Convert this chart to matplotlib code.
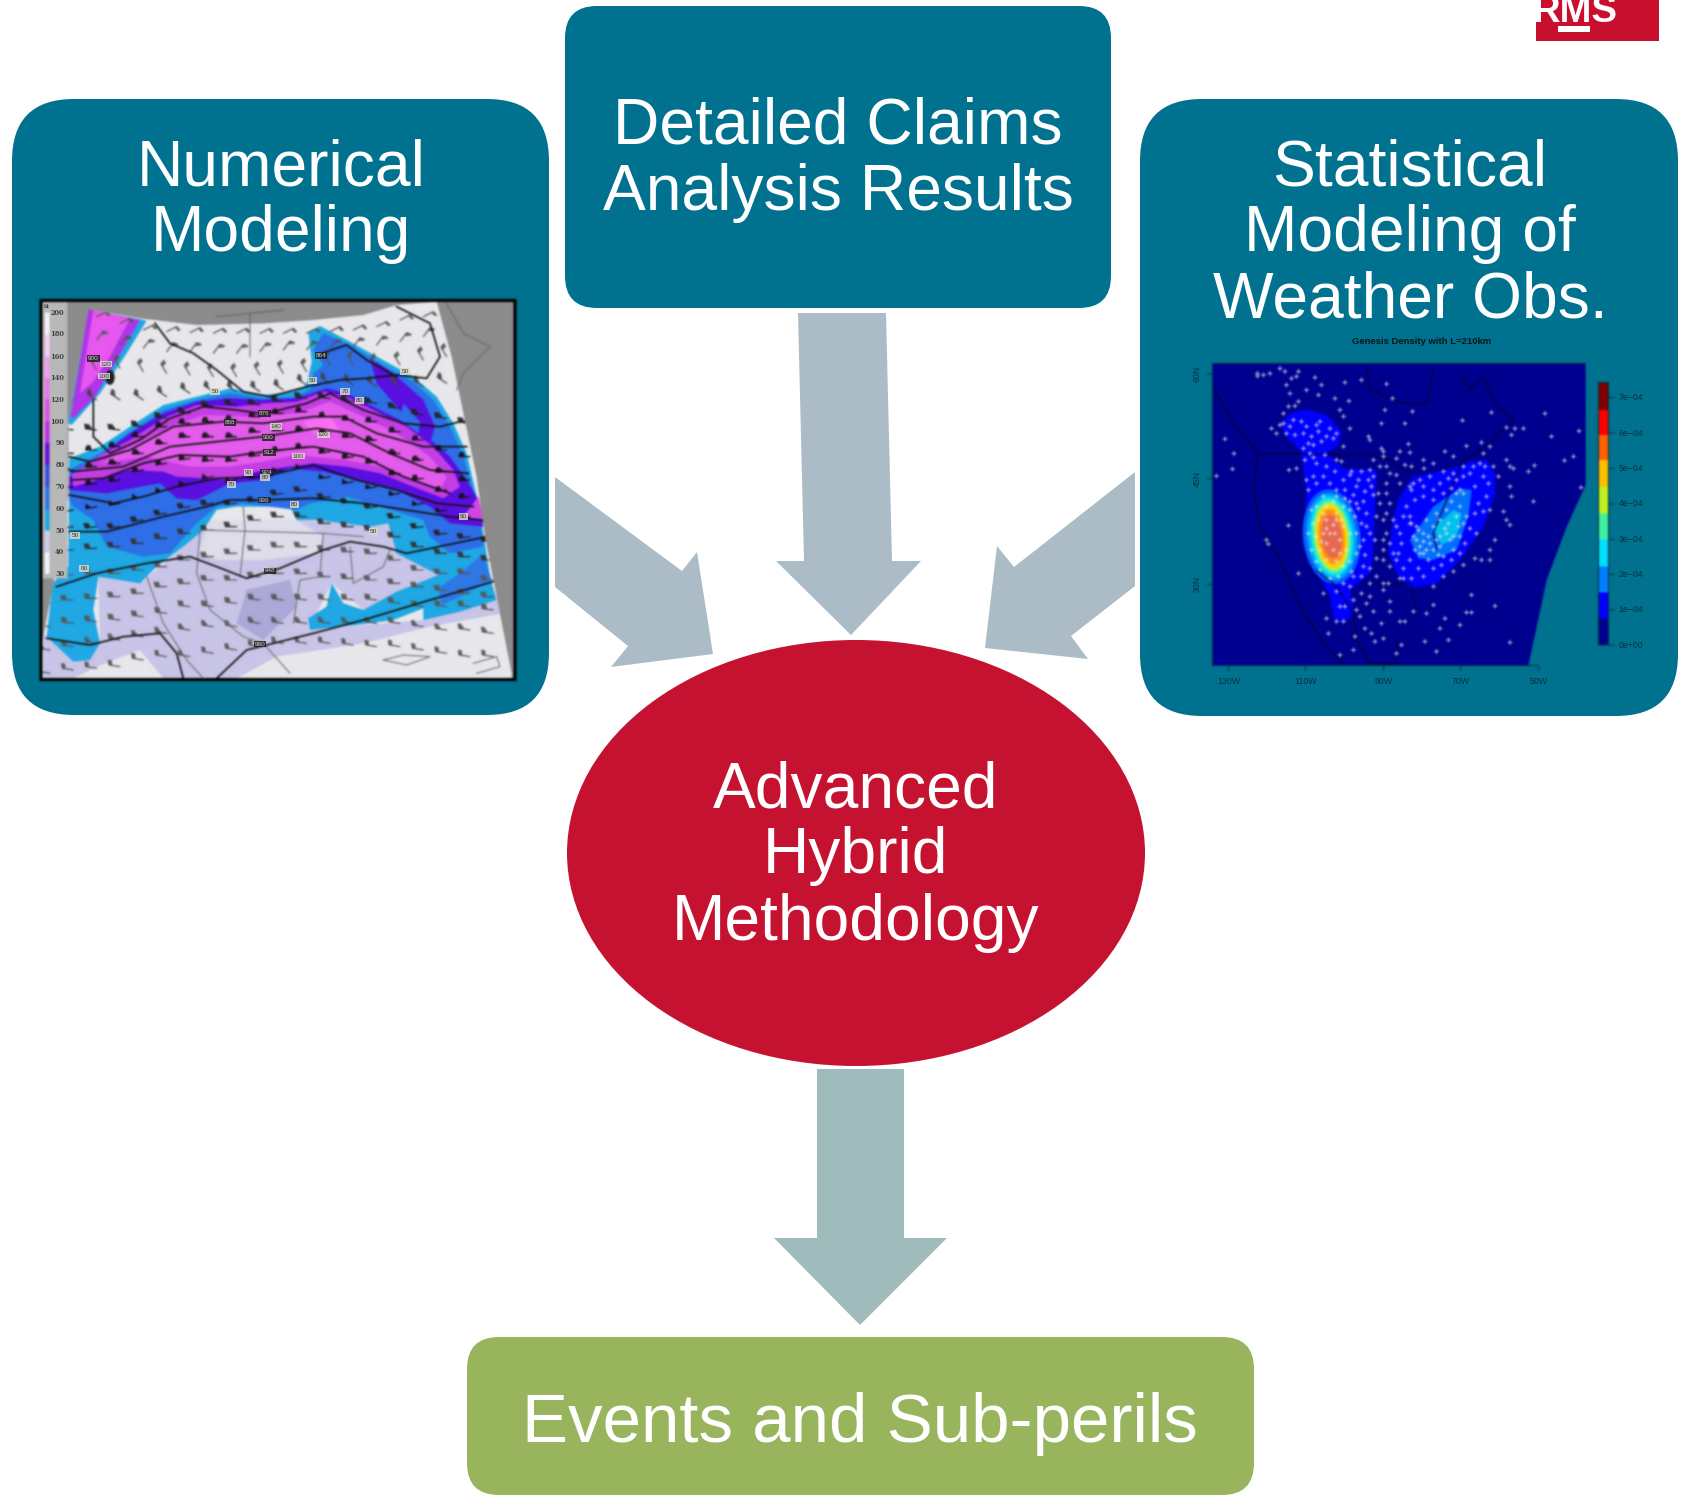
import matplotlib

matplotlib.use("Agg")

import matplotlib.pyplot as plt
import numpy as np
from matplotlib.patches import Ellipse, FancyBboxPatch, Polygon, Rectangle

plt.rcParams["font.family"] = ["Liberation Sans", "DejaVu Sans"]

WIDTH, HEIGHT = 1682, 1499
TEAL = "#00728F"
RED = "#C41230"
GREEN = "#98B45C"
ARROW_BLUE = "#ABBCC6"
ARROW_GREEN = "#A0BBBC"
TITLE_PT = 46.2
EVENTS_PT = 49.8

# flow diagram text, one baseline per line
numerical_lines = [("Numerical", 185), ("Modeling", 251)]
claims_lines = [("Detailed Claims", 143), ("Analysis Results", 210)]
statistical_lines = [("Statistical", 185), ("Modeling of", 251), ("Weather Obs.", 317)]
hybrid_lines = [("Advanced", 807), ("Hybrid", 873), ("Methodology", 940)]
events_lines = [("Events and Sub-perils", 1442)]

left_arrow = [(555, 477), (555, 587), (628, 646), (611, 667), (713, 654), (697, 552), (682, 571)]
right_arrow = [(1135, 472), (1014, 567), (997, 546), (985, 648), (1088, 659), (1071, 636), (1135, 586)]
top_arrow = [(798, 313), (886, 313), (892, 561), (921, 561), (851, 635), (776, 561), (804, 561)]
bottom_arrow = [(817, 1069), (904, 1069), (904, 1238), (947, 1238), (860, 1325), (774, 1238), (817, 1238)]

# forecast map fields
map_domain = [(175, 58), (330, 85), (500, 105), (700, 100), (850, 90), (1000, 75), (1100, 45), (1220, 35),
              (1265, 200), (1340, 560), (1365, 740), (1445, 1150), (1445, 1165), (35, 1165), (38, 1050),
              (70, 880), (115, 620), (115, 400)]
south_band = [(40, 1030), (130, 1115), (180, 1110), (210, 1060), (205, 860), (330, 880), (520, 720), (800, 690),
              (1075, 700), (1225, 855), (1000, 960), (905, 880), (835, 1020), (1180, 990), (1400, 930),
              (1420, 970), (1200, 1010), (1000, 1060), (740, 1100), (620, 1165), (400, 1165), (330, 1080),
              (200, 1130), (130, 1165), (40, 1165)]
south_dark = [(650, 900), (780, 870), (800, 950), (700, 1050), (620, 1000)]
south_clear = [(535, 690), (800, 690), (880, 740), (860, 790), (700, 810), (560, 810), (505, 790)]
band_50 = [(118, 505), (210, 470), (300, 410), (400, 345), (500, 320), (600, 295), (700, 315), (790, 305),
           (830, 285), (845, 215), (835, 125), (870, 108), (950, 150), (1050, 205), (1150, 260), (1220, 320),
           (1270, 400), (1310, 490), (1345, 640), (1362, 740), (1380, 860), (1400, 930), (1290, 965),
           (1180, 990), (1180, 955), (1090, 990), (980, 1005), (840, 1020), (835, 985), (890, 950), (905, 880),
           (940, 940), (1000, 960), (1100, 905), (1225, 855), (1100, 790), (1075, 700), (1020, 710), (860, 690),
           (800, 690), (780, 650), (620, 650), (560, 660), (520, 720), (460, 770), (380, 830), (330, 880),
           (205, 860), (190, 960), (210, 1060), (180, 1110), (130, 1115), (50, 1040), (68, 880), (115, 830)]
band_60 = [(118, 540), (210, 490), (300, 425), (400, 360), (500, 330), (600, 310), (700, 325), (800, 320),
           (845, 295), (850, 250), (880, 225), (850, 180), (880, 130), (960, 165), (1050, 220), (1150, 275),
           (1210, 330), (1260, 410), (1300, 500), (1335, 620), (1355, 720), (1360, 770), (1260, 790),
           (1200, 740), (1180, 690), (1050, 650), (950, 620), (840, 640), (800, 660), (640, 640), (560, 650),
           (500, 700), (420, 790), (340, 800), (230, 770), (190, 690), (130, 650), (118, 630)]
band_60_south = [(1225, 895), (1290, 850), (1360, 790), (1385, 870), (1300, 915), (1235, 945)]
band_80 = [(118, 560), (220, 490), (300, 430), (400, 370), (500, 335), (600, 325), (700, 330), (800, 325),
           (890, 295), (950, 310), (1010, 340), (1100, 385), (1190, 440), (1260, 500), (1310, 570), (1340, 620),
           (1360, 710), (1260, 700), (1200, 650), (1100, 600), (1000, 575), (880, 545), (780, 535), (700, 570),
           (600, 580), (500, 630), (440, 625), (390, 580), (330, 590), (230, 610), (118, 600)]
band_80_lobe = [(1020, 205), (1090, 250), (1180, 330), (1215, 410), (1200, 460), (1100, 350), (1040, 280)]
band_80_core = [(1120, 340), (1170, 395), (1165, 430), (1110, 390)]
band_100 = [(125, 555), (220, 490), (300, 450), (400, 385), (500, 345), (620, 350), (700, 340), (800, 335),
            (880, 305), (950, 320), (1030, 360), (1130, 410), (1210, 470), (1270, 540), (1290, 590), (1240, 625),
            (1150, 590), (1050, 550), (950, 530), (850, 520), (740, 535), (680, 545), (600, 570), (520, 565),
            (440, 560), (400, 545), (300, 540), (200, 570), (130, 590)]
band_140 = [(210, 520), (300, 470), (420, 410), (520, 375), (650, 380), (800, 370), (900, 335), (1000, 380),
            (1100, 430), (1200, 500), (1250, 560), (1230, 600), (1150, 570), (1050, 530), (950, 510), (800, 495),
            (700, 515), (600, 530), (480, 530), (350, 500)]
band_160 = [(820, 395), (900, 380), (930, 420), (850, 430)]
corner_outer = [(175, 58), (350, 92), (290, 190), (210, 310), (125, 405), (115, 400)]
corner_mid = [(175, 58), (330, 90), (260, 210), (195, 320), (130, 385), (122, 380)]
corner_pink = [(190, 60), (300, 85), (240, 200), (190, 275), (150, 310)]
edge_pink = [(1300, 680), (1345, 620), (1362, 695)]

height_lines = [
    [(375, 100), (420, 160), (490, 190), (560, 240), (640, 305), (720, 320), (830, 290), (930, 270), (1010, 265),
     (1100, 255), (1190, 265), (1230, 200), (1200, 100), (1100, 50)],
    [(860, 195), (950, 165), (1010, 210), (1100, 260)],
    [(190, 330), (190, 440), (240, 490), (330, 450), (420, 385), (520, 350), (620, 360), (700, 372), (830, 340),
     (900, 310), (1000, 360), (1120, 400), (1230, 410), (1290, 395)],
    [(118, 500), (180, 515), (300, 480), (430, 410), (580, 395), (700, 400), (850, 380), (940, 380), (1040, 430),
     (1180, 470), (1310, 470)],
    [(125, 545), (280, 530), (420, 470), (560, 455), (700, 440), (860, 415), (960, 430), (1080, 490), (1200, 540),
     (1315, 550)],
    [(125, 570), (220, 565), (340, 520), (450, 495), (600, 500), (700, 485), (850, 470), (1000, 500), (1120, 560),
     (1260, 610)],
    [(118, 615), (250, 640), (340, 620), (440, 590), (560, 565), (700, 560), (850, 525), (980, 570), (1100, 600),
     (1220, 640), (1330, 650)],
    [(118, 725), (230, 725), (400, 680), (530, 650), (600, 630), (700, 630), (850, 625), (1000, 640), (1130, 660),
     (1260, 680), (1355, 690)],
    [(80, 890), (200, 850), (350, 820), (480, 800), (560, 830), (650, 865), (750, 835), (880, 780), (960, 755),
     (1060, 770), (1130, 790), (1370, 740)],
    [(50, 1045), (180, 1065), (280, 1040), (390, 1030), (440, 1090), (460, 1165)],
    [(560, 1165), (650, 1080), (850, 1030), (1000, 990), (1200, 930), (1390, 875)],
]
border_lines = [
    [(510, 720), (880, 730), (1000, 740)],
    [(510, 720), (500, 850), (540, 960), (640, 1040), (700, 1060), (780, 1150)],
    [(640, 650), (645, 720), (630, 860)],
    [(880, 730), (870, 860), (810, 870), (790, 1000)],
    [(960, 770), (970, 880), (1060, 830), (1080, 780)],
    [(350, 860), (400, 1000), (470, 1110), (520, 1165)],
    [(560, 80), (760, 60), (660, 70), (660, 200)],
    [(1060, 1110), (1120, 1095), (1200, 1100), (1130, 1125), (1060, 1110)],
    [(1330, 1120), (1400, 1100), (1410, 1130), (1340, 1150)],
    [(1250, 40), (1300, 130), (1380, 170), (1300, 250), (1280, 300)],
]

barb_columns = [60, 130, 200, 270, 340, 410, 480, 550, 620, 690, 760, 830, 900, 970, 1040, 1110, 1180, 1250, 1320, 1390]
barb_rows = [
    [70, 75, 80, 100, 120, 125, 128, 130, 130, 130, 130, 130, 125, 120, 110, 90, 80, 75, 70, 60],
    [150, 150, 150, 165, 175, 185, 185, 190, 190, 185, 180, 180, 175, 170, 165, 155, 140, 135, 130, 130],
    [240, 240, 240, 235, 245, 250, 255, 260, 260, 255, 250, 245, 225, 225, 230, 225, 210, 200, 200, 200],
    [330, 330, 330, 330, 330, 320, 310, 305, 305, 305, 300, 285, 280, 285, 290, 290, 290, 280, 280, 280],
    [420, 420, 420, 420, 410, 385, 370, 350, 345, 345, 335, 325, 325, 335, 340, 355, 375, 385, 400, 400],
    [500, 490, 480, 470, 440, 410, 400, 395, 390, 380, 370, 365, 380, 390, 395, 425, 450, 480, 500, 500],
    [540, 540, 530, 520, 490, 460, 440, 440, 440, 425, 420, 420, 430, 440, 450, 490, 510, 545, 570, 570],
    [600, 590, 580, 570, 540, 520, 505, 510, 510, 495, 480, 470, 485, 500, 515, 550, 565, 600, 620, 620],
    [660, 660, 650, 640, 620, 600, 580, 560, 570, 560, 540, 530, 560, 575, 590, 610, 640, 660, 680, 690],
    [720, 710, 710, 710, 690, 670, 650, 640, 640, 630, 610, 600, 620, 635, 650, 680, 710, 730, 740, 750],
    [790, 780, 775, 770, 760, 745, 730, 720, 710, 690, 680, 680, 700, 710, 720, 740, 770, 790, 800, 810],
    [860, 855, 850, 850, 840, 830, 810, 800, 790, 780, 770, 770, 780, 785, 790, 810, 840, 850, 850, 870],
    [940, 930, 925, 920, 910, 890, 880, 870, 870, 860, 850, 850, 860, 865, 870, 880, 890, 900, 910, 920],
    [1010, 1000, 995, 990, 980, 970, 950, 950, 940, 930, 930, 930, 930, 930, 930, 940, 950, 950, 950, 960],
    [1080, 1070, 1060, 1050, 1040, 1030, 1020, 1010, 1010, 1000, 1000, 1000, 1000, 1000, 1000, 1000, 1010, 1020, 1020, 1030],
    [1150, 1140, 1135, 1130, 1110, 1100, 1100, 1090, 1080, 1070, 1060, 1060, 1060, 1065, 1070, 1070, 1080, 1090, 1100, 1100],
]
barb_u = [-20, -15, 15, 30, 45, 70, 75, 70, 55, 40, 40, 40, 40, 40, 35, 30]
barb_v = [-10, -20, -25, -20, -5, 0, 5, 10, 10, 5, 0, 0, 0, -5, -5, -5]
barb_colors = ["#555555", "#555555", "#555555", "#444444", "#222222", "#111111", "#111111", "#111111",
               "#111111", "#222222", "#333333", "#555555", "#555555", "#555555", "#555555", "#555555"]

# (text, x, y, black box)
map_labels = [("900", 190, 205, True), ("120", 228, 222, False), ("100", 222, 258, False), ("864", 873, 197, True),
              ("50", 1125, 245, False), ("50", 555, 305, False), ("50", 848, 272, False), ("70", 945, 305, False),
              ("80", 988, 332, False), ("876", 703, 371, True), ("888", 600, 397, True), ("140", 738, 410, False),
              ("900", 715, 443, True), ("120", 880, 435, False), ("912", 718, 488, True), ("100", 805, 498, False),
              ("924", 710, 548, True), ("90", 655, 547, False), ("80", 705, 562, False), ("70", 605, 583, False),
              ("936", 703, 630, True), ("80", 793, 643, False), ("90", 1300, 680, False), ("50", 1030, 725, False),
              ("50", 135, 737, False), ("60", 162, 835, False), ("948", 720, 843, True), ("960", 690, 1062, True)]

speed_ticks = ["200", "180", "160", "140", "120", "100", "90", "80", "70", "60", "50", "40", "30"]
speed_tick_y = [68, 133, 200, 264, 329, 395, 459, 525, 590, 658, 722, 787, 852]
speed_colors = ["#F8F0FA", "#F5D0F5", "#F0A0F0", "#EA78EC", "#E050E8", "#C030E8", "#6A10E0", "#3A50E8",
                "#2E78E8", "#1EA8E4", "#D0CCEC", "#F4F4F8"]

# genesis density panel
density_plot = [(127, 130), (1247, 130), (1247, 495), (1190, 620), (1130, 780), (1075, 1037), (127, 1037)]
density_blue_west = [(335, 310), (360, 280), (410, 268), (470, 285), (515, 335), (505, 375), (470, 400), (520, 445),
                     (620, 450), (615, 560), (610, 700), (600, 760), (540, 810), (550, 880), (520, 910), (490, 895),
                     (480, 830), (455, 780), (420, 730), (400, 640), (410, 530), (400, 440), (390, 390), (345, 345)]
density_blue_east = [(670, 590), (690, 530), (730, 470), (850, 445), (900, 425), (950, 420), (975, 460), (975, 520),
                     (940, 620), (870, 720), (800, 790), (720, 805), (680, 760), (655, 700)]
density_east_mid = [(720, 660), (790, 560), (870, 505), (905, 510), (895, 590), (860, 690), (790, 720), (745, 715)]
density_east_core = [(790, 625), (850, 570), (875, 580), (860, 650), (815, 675)]
# (width, height, colour) of the western maximum, outermost first
density_west_levels = [(172, 285, "#0060FF"), (150, 262, "#00A0FF"), (130, 240, "#00E0F0"), (115, 222, "#50F0B0"),
                       (102, 205, "#C0F040"), (92, 188, "#FFD000"), (78, 165, "#FF9020"), (60, 130, "#E86850")]
genesis_points = [
    (340, 310), (360, 320), (375, 345), (395, 305), (410, 320), (425, 350), (440, 315), (450, 305), (470, 350),
    (490, 355), (415, 370), (430, 375), (350, 340), (320, 340), (305, 325), (330, 315), (355, 260), (375, 258),
    (340, 280), (385, 245), (360, 220), (350, 195), (345, 155), (330, 145), (385, 155), (380, 170), (365, 175),
    (262, 160), (262, 168), (280, 165), (300, 160), (435, 172), (410, 210), (445, 225), (455, 195), (525, 187),
    (575, 180), (650, 192), (495, 235), (537, 243), (667, 235), (510, 270), (520, 290), (540, 325), (595, 350),
    (600, 360), (645, 270), (635, 310), (705, 310), (728, 275), (878, 302), (965, 278), (1010, 322), (1060, 325),
    (1035, 325), (1025, 345), (1125, 280), (1145, 350), (1227, 333), (1210, 410), (1183, 422), (1093, 436),
    (1075, 455), (1090, 545), (1233, 503), (165, 357), (192, 400), (188, 447), (140, 468), (357, 450), (380, 445),
    (355, 617), (290, 660), (295, 672), (405, 420), (430, 412), (465, 405), (520, 380), (515, 425), (500, 420),
    (410, 480), (430, 470), (460, 470), (415, 510), (440, 490), (480, 490), (500, 510), (545, 455), (540, 465),
    (575, 455), (600, 450), (610, 470), (650, 440), (640, 395), (635, 385), (640, 410), (680, 415), (690, 395),
    (715, 372), (720, 398), (705, 435), (725, 440), (760, 420), (762, 445), (790, 430), (825, 395), (850, 410),
    (890, 378), (935, 367), (960, 380), (940, 400), (930, 430), (900, 460), (880, 470), (860, 480), (835, 475),
    (810, 490), (790, 510), (760, 500), (730, 490), (725, 510), (680, 465), (650, 490), (625, 520), (605, 500),
    (560, 500), (550, 525), (580, 545), (610, 525), (630, 550), (650, 580), (620, 590), (590, 620), (600, 640),
    (570, 680), (585, 705), (600, 745), (580, 740), (550, 770), (520, 790), (540, 800), (615, 660), (640, 600),
    (620, 715), (640, 720), (660, 670), (670, 700), (690, 640), (700, 590), (720, 610), (740, 620), (680, 720),
    (720, 720), (750, 700), (770, 690), (800, 660), (830, 640), (850, 650), (865, 620), (890, 590), (870, 560),
    (880, 520), (915, 500), (940, 470), (970, 440), (985, 470), (1010, 420), (1020, 440), (1030, 445), (1020, 500),
    (1025, 530), (1000, 575), (1010, 600), (1020, 615), (960, 570), (940, 575), (920, 640), (975, 660), (960, 690),
    (960, 720), (935, 720), (915, 715), (880, 735), (850, 755), (820, 770), (790, 800), (745, 745), (700, 775),
    (690, 775), (640, 790), (655, 790), (600, 790), (575, 820), (600, 830), (550, 840), (500, 815), (510, 860),
    (525, 860), (500, 905), (520, 905), (470, 895), (460, 820), (450, 750), (385, 760), (475, 940), (555, 950),
    (585, 925), (610, 875), (660, 875), (660, 845), (635, 910), (605, 940), (640, 955), (615, 965), (550, 990),
    (510, 1005), (680, 1000), (695, 975), (765, 965), (835, 960), (800, 995), (1020, 968), (810, 925), (825, 895),
    (870, 915), (890, 878), (905, 825), (975, 858), (905, 878), (770, 880), (730, 875), (790, 855), (690, 905),
    (705, 905), (470, 560), (490, 545), (445, 600), (470, 600), (500, 600), (520, 620), (440, 650), (460, 640),
    (480, 640), (510, 660), (530, 690), (450, 690), (490, 690), (470, 720), (500, 725), (520, 740), (430, 610),
    (540, 640), (555, 590), (560, 550), (520, 560), (760, 640), (790, 620), (810, 600), (830, 570), (860, 520),
    (870, 510), (750, 680), (780, 670), (810, 680), (840, 660), (720, 590), (725, 610), (870, 650), (740, 660),
    (760, 700), (775, 720), (370, 300), (400, 340), (445, 335), (480, 325), (500, 340), (455, 365), (400, 385),
    (420, 400), (440, 430), (470, 440), (495, 455), (520, 480), (525, 510), (565, 480), (595, 480), (585, 515),
    (540, 545), (565, 565), (590, 580), (575, 610), (560, 640), (580, 660), (560, 700), (540, 725), (545, 755),
    (575, 770), (505, 770), (480, 775), (440, 560), (425, 570), (415, 640), (425, 690), (440, 725), (460, 530),
    (500, 530), (525, 535), (540, 570), (470, 625), (495, 640), (470, 670), (510, 700), (500, 580), (460, 580),
    (455, 665), (490, 615), (515, 600), (720, 500), (750, 480), (780, 470), (820, 455), (850, 460), (880, 440),
    (910, 440), (945, 440), (955, 490), (950, 530), (925, 550), (915, 580), (900, 625), (885, 670), (870, 700),
    (845, 720), (815, 735), (790, 745), (760, 770), (725, 775), (700, 745), (685, 700), (695, 670), (680, 620),
    (710, 560), (735, 540), (760, 530), (790, 540), (820, 520), (845, 505), (770, 600), (745, 630), (730, 650),
    (760, 665), (790, 690), (820, 710), (850, 690), (835, 610), (860, 590), (845, 545), (880, 610), (800, 580),
    (775, 650), (825, 625), (810, 650), (735, 690), (805, 705), (610, 420), (630, 440), (660, 460), (690, 490),
    (650, 520), (660, 550), (670, 600), (650, 640), (640, 660), (640, 690), (660, 740), (620, 770), (640, 810),
    (590, 850), (560, 870), (570, 890),
]
coast_lines = [
    [(130, 200), (190, 310), (265, 400), (250, 500), (270, 620), (330, 720), (400, 880), (470, 980), (520, 1030)],
    [(270, 400), (600, 405), (660, 420), (720, 460)],
    [(590, 140), (600, 210), (700, 250), (770, 250), (790, 150)],
    [(440, 750), (500, 800), (550, 880), (560, 960), (600, 1030), (680, 1030), (680, 950)],
    [(590, 790), (660, 795), (720, 790), (740, 870)],
    [(1030, 300), (950, 380), (880, 420), (830, 540), (790, 640), (800, 690)],
    [(870, 160), (900, 210), (940, 170), (980, 260), (1030, 300)],
]
lon_ticks = [175, 407, 640, 872, 1105]
lon_labels = ["130W", "110W", "90W", "70W", "50W"]
lat_ticks = [162, 477, 793]
lat_labels = ["60N", "45N", "30N"]
scale_ticks = [975, 870, 764, 658, 552, 445, 339, 232]
scale_labels = ["0e+00", "1e\u221204", "2e\u221204", "3e\u221204", "4e\u221204", "5e\u221204", "6e\u221204", "7e\u221204"]
scale_edges = [975, 895, 818, 740, 658, 580, 500, 420, 345, 270, 187]
scale_colors = ["#00008F", "#0000FF", "#0080FF", "#00E0FF", "#40F0A0", "#C0F020", "#FFC000", "#FF6000", "#FF0000",
                "#800000"]

SOFTEN_KERNEL = np.array([1, 4, 6, 4, 1]) / 16
SCREEN_SCALE = 2


def add_box(ax, x0, y0, x1, y1, radius, color):
    ax.add_patch(FancyBboxPatch((x0, y0), x1 - x0, y1 - y0, boxstyle=f"round,pad=0,rounding_size={radius}",
                                facecolor=color, edgecolor="none"))


def add_lines(ax, lines, x, size=TITLE_PT):
    for text, baseline in lines:
        ax.text(x, baseline, text, color="white", fontsize=size, ha="center", va="baseline")


def panel_axes(fig, x0, y0, width, height):
    # crop axes use 3 units per pixel
    ax = fig.add_axes([x0 / WIDTH, 1 - (y0 + height) / HEIGHT, width / WIDTH, height / HEIGHT])
    ax.set_xlim(0, width * 3)
    ax.set_ylim(height * 3, 0)
    ax.axis("off")
    return ax


def soft_layer(ax, width, height, draw, passes=3):
    # the scanned panels are soft, so their artwork is drawn off screen and smoothed
    fig = plt.figure(figsize=(width / 100, height / 100), dpi=100 * SCREEN_SCALE, facecolor=TEAL)
    off = fig.add_axes([0, 0, 1, 1])
    off.set_xlim(0, width * 3)
    off.set_ylim(height * 3, 0)
    off.axis("off")
    draw(off)
    fig.canvas.draw()
    pixels = np.asarray(fig.canvas.buffer_rgba())[:, :, :3].astype(float)
    plt.close(fig)
    for _ in range(passes):
        for axis in (0, 1):
            pixels = np.apply_along_axis(lambda run: np.convolve(np.pad(run, 2, mode="edge"), SOFTEN_KERNEL, "valid"),
                                         axis, pixels)
    ax.imshow(pixels.astype(np.uint8), extent=(0, width * 3, height * 3, 0), aspect="auto", interpolation="hanning",
              zorder=0)
    ax.set_xlim(0, width * 3)
    ax.set_ylim(height * 3, 0)


def draw_map_art(ax):
    ax.add_patch(Rectangle((33, 31), 1422, 1137, facecolor="#8C8C8C", edgecolor="none"))
    domain = Polygon(map_domain, facecolor="#E8E8EC", edgecolor="none")
    ax.add_patch(domain)

    fields = [
        (south_band, "#C9C5E8"), (south_dark, "#ACA8D8"), (south_clear, "#DEDDEA"), (band_50, "#1FA8E4"),
        (band_60, "#2E6FE8"), (band_60_south, "#2E78E8"), (band_80, "#5A0FE0"), (band_80_lobe, "#5A0FE0"),
        (band_80_core, "#2E6FE8"), (band_100, "#C43EE4"), (band_140, "#E45CEC"), (band_160, "#FA70F4"),
        (corner_outer, "#1FA8E4"), (corner_mid, "#B035E8"), (corner_pink, "#E858F0"), (edge_pink, "#D048E4"),
    ]
    for vertices, color in fields:
        patch = Polygon(vertices, facecolor=color, edgecolor="none")
        ax.add_patch(patch)
        patch.set_clip_path(domain)

    for line in border_lines:
        xs, ys = zip(*line)
        ax.plot(xs, ys, color="#666666", lw=0.7)

    barb_x = []
    barb_y = []
    u = []
    v = []
    colors = []
    for row, row_u, row_v, color in zip(barb_rows, barb_u, barb_v, barb_colors):
        barb_x.extend(barb_columns)
        barb_y.extend(row)
        u.extend([row_u] * len(row))
        v.extend([row_v] * len(row))
        colors.extend([color] * len(row))
    barbs = ax.barbs(barb_x, barb_y, u, v, length=4.0, linewidth=0.7, pivot="tip", barbcolor=colors, flagcolor=colors)
    barbs.set_clip_path(domain)

    for line in height_lines:
        xs, ys = zip(*line)
        ax.plot(xs, ys, color="#111111", lw=1.2, solid_joinstyle="round")[0].set_clip_path(domain)

    ax.add_patch(Ellipse((240, 262), 28, 45, facecolor="#222222", edgecolor="none"))

    # speed scale
    ax.add_patch(Rectangle((37, 35), 76, 830, facecolor="#B8B8B8", edgecolor="none"))
    for top, bottom, color in zip(speed_tick_y[:-1], speed_tick_y[1:], speed_colors):
        ax.add_patch(Rectangle((45, top), 13, bottom - top, facecolor=color, edgecolor="none"))

    ax.add_patch(Rectangle((33, 31), 1422, 1137, facecolor="none", edgecolor="black", lw=2.2))


def draw_map_text(ax):
    for text, x, y, dark in map_labels:
        face = "#222222" if dark else "#D8D8C8"
        ink = "#E8E8E8" if dark else "#222222"
        ax.text(x, y, text, fontsize=4.6, color=ink, ha="center", va="center", alpha=0.85,
                bbox=dict(boxstyle="square,pad=0.15", facecolor=face, edgecolor="none", alpha=0.85))
    ax.text(52, 48, "kt", fontsize=4.5, ha="center", va="center", color="#222222", family="DejaVu Serif")
    for label, y in zip(speed_ticks, speed_tick_y):
        ax.text(103, y, label, fontsize=4.8, ha="right", va="center", color="#222222", family="DejaVu Serif",
                weight="bold", alpha=0.8)


def draw_density_art(ax):
    ink = "#06303F"
    plot = Polygon(density_plot, facecolor="#00008F", edgecolor="none")
    ax.add_patch(plot)
    for vertices, color in [(density_blue_west, "#0000FF"), (density_blue_east, "#0000FF"),
                            (density_east_mid, "#0070FF"), (density_east_core, "#00C0F0")]:
        ax.add_patch(Polygon(vertices, facecolor=color, edgecolor="none"))
    for width, height, color in density_west_levels:
        ax.add_patch(Ellipse((485, 650), width, height, angle=-6, facecolor=color, edgecolor="none"))

    for line in coast_lines:
        xs, ys = zip(*line)
        ax.plot(xs, ys, color="#000030", lw=0.8)

    xs, ys = zip(*genesis_points)
    ax.plot(xs, ys, ls="none", marker="+", ms=3.5, mew=0.55, color="#E8E8E8")

    ax.plot([127, 127], [130, 1037], color=ink, lw=0.7)
    ax.plot([127, 1247], [130, 130], color=ink, lw=0.7)
    ax.plot([175, 1105], [1037, 1037], color=ink, lw=0.7)
    for x in lon_ticks:
        ax.plot([x, x], [1037, 1052], color=ink, lw=0.7)
    for y in lat_ticks:
        ax.plot([112, 127], [y, y], color=ink, lw=0.7)

    for bottom, top, color in zip(scale_edges[:-1], scale_edges[1:], scale_colors):
        ax.add_patch(Rectangle((1285, top), 30, bottom - top, facecolor=color, edgecolor="none"))
    ax.add_patch(Rectangle((1285, 187), 30, 788, facecolor="none", edgecolor=ink, lw=0.7))
    for y in scale_ticks:
        ax.plot([1315, 1332], [y, y], color=ink, lw=0.7)


def draw_density_text(ax):
    ink = "#06303F"
    ax.text(755, 63, "Genesis Density with L=210km", fontsize=6.8, weight="bold", color="#08161C",
            ha="center", va="center")
    for x, label in zip(lon_ticks, lon_labels):
        ax.text(x, 1086, label, fontsize=6.3, color=ink, ha="center", va="center")
    for y, label in zip(lat_ticks, lat_labels):
        ax.text(82, y, label, fontsize=6.3, color=ink, rotation=90, ha="center", va="center")
    for y, label in zip(scale_ticks, scale_labels):
        ax.text(1345, y, label, fontsize=6.3, color=ink, ha="left", va="center")


def main():
    fig = plt.figure(figsize=(WIDTH / 100, HEIGHT / 100), dpi=100, facecolor="white")
    ax = fig.add_axes([0, 0, 1, 1])
    ax.set_xlim(0, WIDTH)
    ax.set_ylim(HEIGHT, 0)
    ax.axis("off")

    add_box(ax, 12, 99, 549, 715, 62, TEAL)
    add_box(ax, 565, 6, 1111, 308, 32, TEAL)
    add_box(ax, 1140, 99, 1678, 716, 62, TEAL)
    add_box(ax, 467, 1337, 1254, 1495, 32, GREEN)
    ax.add_patch(Ellipse((856, 853), 578, 426, facecolor=RED, edgecolor="none"))

    for vertices in (left_arrow, right_arrow, top_arrow):
        ax.add_patch(Polygon(vertices, facecolor=ARROW_BLUE, edgecolor="none"))
    ax.add_patch(Polygon(bottom_arrow, facecolor=ARROW_GREEN, edgecolor="none"))

    add_lines(ax, numerical_lines, 281)
    add_lines(ax, claims_lines, 838)
    add_lines(ax, statistical_lines, 1410)
    add_lines(ax, hybrid_lines, 856)
    add_lines(ax, events_lines, 860, EVENTS_PT)

    # logo block, lettering runs off its top and left edges
    logo = Rectangle((1536, 0), 123, 41, facecolor="#C8102E", edgecolor="none")
    ax.add_patch(logo)
    ax.text(1575, 22, "RMS", fontsize=27.5, weight="bold", color="white", ha="center", va="baseline").set_clip_path(logo)
    ax.add_patch(Rectangle((1558, 26), 32, 6, facecolor="white", edgecolor="none"))

    map_ax = panel_axes(fig, 30, 290, 500, 400)
    soft_layer(map_ax, 500, 400, draw_map_art)
    draw_map_text(map_ax)

    density_ax = panel_axes(fig, 1170, 320, 480, 380)
    soft_layer(density_ax, 480, 380, draw_density_art)
    draw_density_text(density_ax)

    fig.savefig("out.png", dpi=100)


main()
